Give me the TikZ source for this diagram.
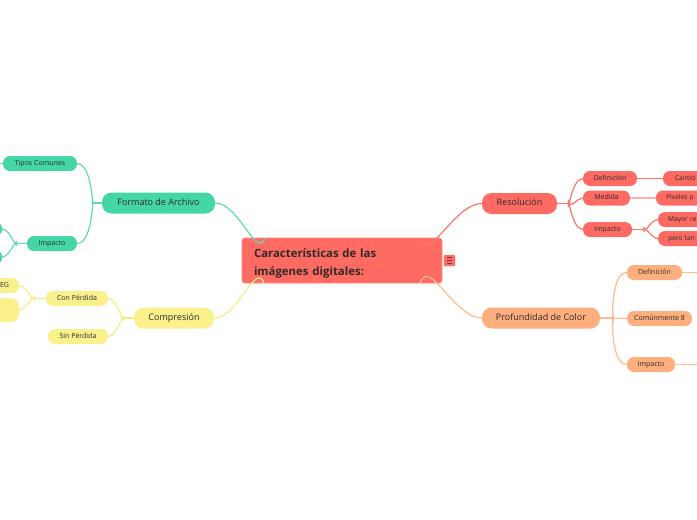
\documentclass[tikz,border=0pt]{standalone}
\usepackage{fontspec}
\setmainfont{Open Sans}
\usetikzlibrary{calc}
\definecolor{txt}{HTML}{2B2B2B}
\definecolor{redf}{HTML}{FF6A63}
\definecolor{redb}{HTML}{FF8A84}
\definecolor{redl}{HTML}{FF756E}
\definecolor{redl2}{HTML}{FFB0AB}
\definecolor{greenf}{HTML}{45D6A6}
\definecolor{greenl}{HTML}{5EDCB3}
\definecolor{yellowf}{HTML}{FAF08C}
\definecolor{yellowl}{HTML}{F7EC8A}
\definecolor{orangef}{HTML}{FFAE7D}
\definecolor{orangel}{HTML}{FFBB90}
\tikzset{
  mainnode/.style={rectangle, rounded corners=9.5pt, minimum height=21pt, inner sep=0pt,
    text height=6.6pt, text depth=2pt, text=txt, font=\fontsize{9}{10}\selectfont},
  subnode/.style={rectangle, rounded corners=7pt, minimum height=15pt, inner sep=0pt,
    text height=5.2pt, text depth=1.5pt, text=txt, font=\fontsize{7}{8}\selectfont},
  cutnode/.style={subnode, text width=40pt, align=left, font=\fontsize{6.7}{8}\selectfont},
  rl/.style={draw=redl, line width=1.2pt},
  rl2/.style={draw=redl2, line width=1.2pt},
  gl/.style={draw=greenl, line width=1.2pt},
  yl/.style={draw=yellowl, line width=1.2pt},
  ol/.style={draw=orangel, line width=1.2pt},
}
\begin{document}
\begin{tikzpicture}[x=1pt,y=-1pt]
\useasboundingbox (0,0) rectangle (697,520);
\clip (0,0) rectangle (697,520);

% ---------- connectors from the central topic (drawn first, behind it)
\coordinate (cR) at (420,238);
\coordinate (cO) at (420,283);
\coordinate (cG) at (265,238);
\coordinate (cY) at (264,283);

% central
\node[rectangle, rounded corners=3pt, fill=redf, draw=redb, line width=0.6pt,
  minimum width=200pt, minimum height=45pt, inner sep=0pt] (c) at (342,260.5) {};
\node[inner xsep=0pt, inner ysep=0pt, text width=176pt, align=left, text=txt,
  font=\fontsize{11.4}{18}\selectfont\bfseries] (ctext) at (342,263)
  {Características de las\\imágenes digitales:};
\node[rectangle, rounded corners=1pt, fill=redf, draw=redb, line width=0.4pt,
  minimum width=11pt, minimum height=11pt, inner sep=0pt] (icon) at (449.5,260.5) {};
\draw[txt!70!redf, line width=0.9pt] ([xshift=-2.8pt,yshift=-2.6pt]icon.center) -- ([xshift=2.8pt,yshift=-2.6pt]icon.center)
  ([xshift=-2.8pt]icon.center) -- ([xshift=2.8pt]icon.center)
  ([xshift=-2.8pt,yshift=2.6pt]icon.center) -- ([xshift=2.8pt,yshift=2.6pt]icon.center);

% ---------- Resolucion (red)
\node[mainnode, fill=redf, minimum width=75pt] (res) at (519.5,203.5) {Resolución};
\node[subnode, fill=redf, minimum width=54pt] (rdef) at (610,178.5) {Definición};
\node[subnode, fill=redf, minimum width=47pt] (rmed) at (606.5,198) {Medida};
\node[subnode, fill=redf, minimum width=49pt] (rimp) at (607.5,229.5) {Impacto};
\node[cutnode, fill=redf, inner xsep=12pt] (rcan) at (695,178.5) {Cantid};
\node[cutnode, fill=redf, inner xsep=10pt] (rpix) at (686,198) {Pixeles p};
\node[cutnode, fill=redf, inner xsep=10pt] (rmay) at (688,219.5) {Mayor re};
\node[cutnode, fill=redf, inner xsep=10pt] (rper) at (688,238.5) {pero tan};

\draw[rl] (cR) to[out=-70,in=180] (res.west);
\draw[rl] (res.east) -- ++(11,0) coordinate (rf);
\draw[rl] (rf) to[out=-90,in=180] (rdef.west);
\draw[rl] (rf) to[out=-45,in=180] (rmed.west);
\draw[rl] (rf) to[out=90,in=180] (rimp.west);
\draw[rl] (rdef.east) -- (rcan.west);
\draw[rl2] (rmed.east) -- (rpix.west);
\draw[rl] (rimp.east) -- ++(11,0) coordinate (rif);
\draw[rl] (rif) to[out=-90,in=180] (rmay.west);
\draw[rl] (rif) to[out=90,in=180] (rper.west);

% ---------- Profundidad (orange)
\node[mainnode, fill=orangef, minimum width=118pt] (prof) at (541,318) {Profundidad de Color};
\node[subnode, fill=orangef, minimum width=55pt] (odef) at (654.5,272.5) {Definición};
\node[subnode, fill=orangef, minimum width=65pt] (ocom) at (659.5,318.5) {Comúnmente 8};
\node[subnode, fill=orangef, minimum width=48pt] (oimp) at (651,364.5) {Impacto};
\coordinate (oR1) at (700,272.5);
\coordinate (oR2) at (700,364.5);

\draw[ol] (cO) to[out=70,in=180] (prof.west);
\draw[ol] (prof.east) -- ++(13,0) coordinate (of);
\draw[ol] (of) to[out=-90,in=180] (odef.west);
\draw[ol] (of) -- (ocom.west);
\draw[ol] (of) to[out=90,in=180] (oimp.west);
\draw[ol] (odef.east) -- (oR1);
\draw[ol] (oimp.east) -- (oR2);

% ---------- Formato (green)
\node[mainnode, fill=greenf, minimum width=113pt] (form) at (158.5,203) {Formato de Archivo};
\node[subnode, fill=greenf, minimum width=74pt] (tipos) at (40,163.5) {Tipos Comunes};
\node[subnode, fill=greenf, minimum width=50pt] (gimp) at (52,243.5) {Impacto};
\node[subnode, fill=greenf, minimum width=44pt] (gx1) at (-20,229) {};
\node[subnode, fill=greenf, minimum width=44pt] (gx2) at (-20,257) {};
\coordinate (gL) at (-5,163.5);

\draw[gl] (cG) to[out=-110,in=0] (form.east);
\draw[gl] (form.west) -- ++(-9,0) coordinate (gf);
\draw[gl] (gf) to[out=-90,in=0] (tipos.east);
\draw[gl] (gf) to[out=90,in=0] (gimp.east);
\draw[gl] (tipos.west) -- (gL);
\draw[gl] (gimp.west) -- ++(-10,0) coordinate (gif);
\draw[gl] (gif) to[out=-90,in=0] (gx1.east);
\draw[gl] (gif) to[out=90,in=0] (gx2.east);

% ---------- Compresion (yellow)
\node[mainnode, fill=yellowf, minimum width=80pt] (comp) at (174,318) {Compresión};
\node[subnode, fill=yellowf, minimum width=62pt] (ycon) at (77,298.5) {Con Pérdida};
\node[subnode, fill=yellowf, minimum width=60pt] (ysin) at (78,336.5) {Sin Pérdida};
\node[subnode, fill=yellowf, text width=20pt, align=right, inner xsep=10pt] (yjpeg) at (-1,285.5) {EG};
\node[rectangle, rounded corners=8pt, fill=yellowf, minimum width=40pt, minimum height=24pt] (ybig) at (-1,310) {};

\draw[yl] (cY) to[out=110,in=0] (comp.east);
\draw[yl] (comp.west) -- ++(-10,0) coordinate (yf);
\draw[yl] (yf) to[out=-90,in=0] (ycon.east);
\draw[yl] (yf) to[out=90,in=0] (ysin.east);
\draw[yl] (ycon.west) -- ++(-11,0) coordinate (ycf);
\draw[yl] (ycf) to[out=-90,in=0] (yjpeg.east);
\draw[yl] (ycf) to[out=90,in=0] (ybig.east);
\end{tikzpicture}
\end{document}
